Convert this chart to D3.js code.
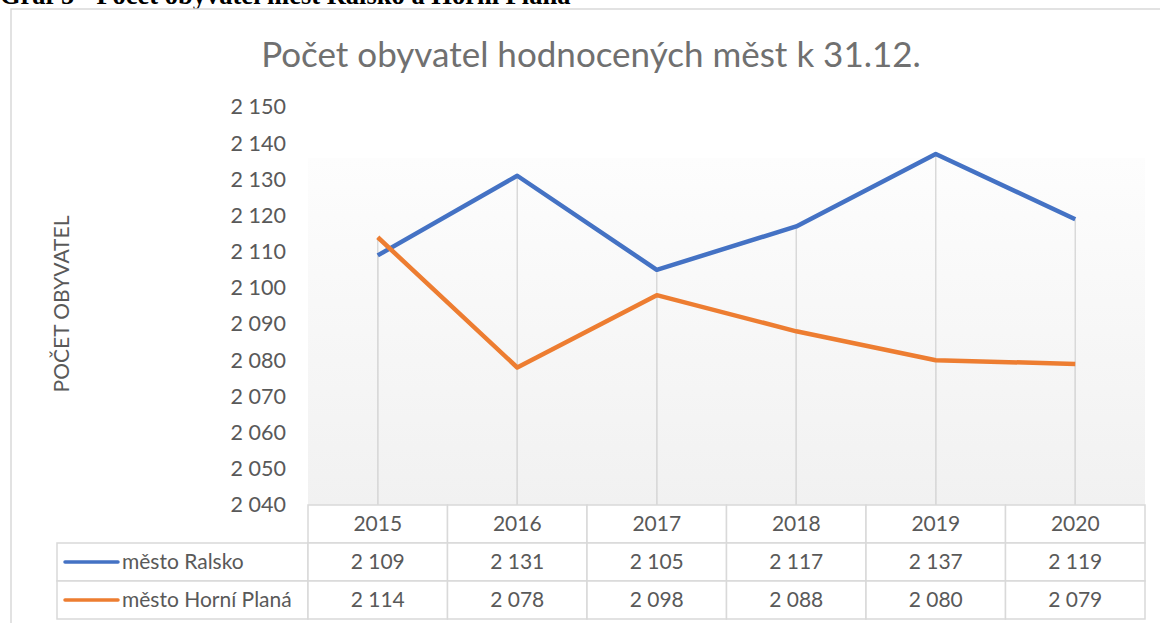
<!DOCTYPE html>
<html>
<head>
<meta charset="utf-8">
<script src="https://cdn.jsdelivr.net/npm/d3@7"></script>
<style>
  body { margin: 0; background: #fff; }
  svg { display: block; }
  text { font-family: Lato, "Open Sans", sans-serif; }
</style>
</head>
<body>
<div id="chart"></div>
<script>
  // data
  const years = ['2015', '2016', '2017', '2018', '2019', '2020'];
  const ralsko = [2109, 2131, 2105, 2117, 2137, 2119];
  const horniPlana = [2114, 2078, 2098, 2088, 2080, 2079];
  const seriesNames = ['město Ralsko', 'město Horní Planá'];
  const seriesColors = ['#4472C4', '#ED7D31'];
  const yTicks = [2040, 2050, 2060, 2070, 2080, 2090, 2100, 2110, 2120, 2130, 2140, 2150];

  const width = 1160;
  const height = 623;
  const plot = { left: 308, right: 1145, top: 107, bottom: 505 };
  const rowH = 38;

  const fmt = v => d3.format(',')(v).replace(',', ' ');

  const svg = d3.select('#chart')
    .append('svg')
    .attr('width', width)
    .attr('height', height);

  // caption above the chart (cut off at the top of the picture)
  svg.append('text')
    .attr('x', 0)
    .attr('y', 4)
    .style('font-family', '"Liberation Serif", "Times New Roman", serif')
    .style('font-weight', 'bold')
    .style('font-size', '26.5px')
    .attr('fill', '#000')
    .text('Graf 5 - Počet obyvatel měst Ralsko a Horní Planá');

  // chart frame
  svg.append('rect')
    .attr('x', 11)
    .attr('y', 9)
    .attr('width', 1160)
    .attr('height', 700)
    .attr('fill', '#fff')
    .attr('stroke', '#d9d9d9')
    .attr('stroke-width', 1.5);

  // plot area gradient
  const defs = svg.append('defs');
  const grad = defs.append('linearGradient')
    .attr('id', 'plotGrad')
    .attr('x1', 0).attr('y1', 0).attr('x2', 0).attr('y2', 1);
  grad.append('stop').attr('offset', '0%').attr('stop-color', '#fdfdfd');
  grad.append('stop').attr('offset', '100%').attr('stop-color', '#f1f1f1');

  const x = d3.scaleBand()
    .domain(years)
    .range([plot.left, plot.right]);
  const cx = d => x(d) + x.bandwidth() / 2;

  const y = d3.scaleLinear()
    .domain([2040, 2150])
    .range([plot.bottom, plot.top]);

  svg.append('rect')
    .attr('x', plot.left)
    .attr('y', 158)
    .attr('width', plot.right - plot.left)
    .attr('height', plot.bottom - 158)
    .attr('fill', 'url(#plotGrad)');

  // title
  svg.append('text')
    .attr('x', 591)
    .attr('y', 67)
    .attr('text-anchor', 'middle')
    .style('font-size', '35px')
    .attr('fill', '#707070')
    .text('Počet obyvatel hodnocených měst k 31.12.');

  // y axis title
  svg.append('text')
    .attr('transform', 'translate(69,304) rotate(-90)')
    .attr('text-anchor', 'middle')
    .style('font-size', '21px')
    .attr('fill', '#595959')
    .text('POČET OBYVATEL');

  // y axis
  const yAxis = svg.append('g')
    .attr('transform', `translate(${plot.left - 22},0)`)
    .call(d3.axisLeft(y).tickValues(yTicks).tickSize(0).tickPadding(0).tickFormat(fmt));
  yAxis.select('.domain').remove();
  yAxis.selectAll('text')
    .style('font-family', 'Lato, sans-serif')
    .style('font-size', '21.5px')
    .attr('fill', '#595959');

  // drop lines
  const series = [ralsko, horniPlana];
  series.forEach(vals => {
    svg.append('g')
      .selectAll('line')
      .data(years)
      .join('line')
      .attr('x1', d => cx(d))
      .attr('x2', d => cx(d))
      .attr('y1', (d, i) => y(vals[i]))
      .attr('y2', plot.bottom)
      .attr('stroke', '#d9d9d9')
      .attr('stroke-width', 1.5);
  });

  // lines
  series.forEach((vals, s) => {
    const line = d3.line()
      .x((d, i) => cx(years[i]))
      .y(d => y(d));
    svg.append('path')
      .datum(vals)
      .attr('d', line)
      .attr('fill', 'none')
      .attr('stroke', seriesColors[s])
      .attr('stroke-width', 4.5)
      .attr('stroke-linejoin', 'round');
  });

  // data table
  const table = svg.append('g');
  const border = '#d9d9d9';
  const legendLeft = 57;
  const headerTop = plot.bottom;

  // header cells
  table.selectAll('rect.head')
    .data(years)
    .join('rect')
    .attr('class', 'head')
    .attr('x', d => x(d))
    .attr('y', headerTop)
    .attr('width', x.bandwidth())
    .attr('height', rowH)
    .attr('fill', '#fff')
    .attr('stroke', border)
    .attr('stroke-width', 1.5);
  table.selectAll('text.head')
    .data(years)
    .join('text')
    .attr('class', 'head')
    .attr('x', d => cx(d))
    .attr('y', headerTop + rowH / 2 + 7)
    .attr('text-anchor', 'middle')
    .style('font-size', '21px')
    .attr('fill', '#595959')
    .text(d => d);

  series.forEach((vals, s) => {
    const top = headerTop + rowH * (s + 1);
    const row = table.append('g');
    row.append('rect')
      .attr('x', legendLeft)
      .attr('y', top)
      .attr('width', plot.left - legendLeft)
      .attr('height', rowH)
      .attr('fill', '#fff')
      .attr('stroke', border)
      .attr('stroke-width', 1.5);
    row.selectAll('rect.cell')
      .data(years)
      .join('rect')
      .attr('class', 'cell')
      .attr('x', d => x(d))
      .attr('y', top)
      .attr('width', x.bandwidth())
      .attr('height', rowH)
      .attr('fill', '#fff')
      .attr('stroke', border)
      .attr('stroke-width', 1.5);
    row.append('line')
      .attr('x1', 65)
      .attr('x2', 118)
      .attr('y1', top + rowH / 2)
      .attr('y2', top + rowH / 2)
      .attr('stroke', seriesColors[s])
      .attr('stroke-width', 3.5)
      .attr('stroke-linecap', 'round');
    row.append('text')
      .attr('x', 122)
      .attr('y', top + rowH / 2 + 7)
      .style('font-size', '21px')
      .attr('fill', '#595959')
      .text(seriesNames[s]);
    row.selectAll('text.val')
      .data(years)
      .join('text')
      .attr('class', 'val')
      .attr('x', d => cx(d))
      .attr('y', top + rowH / 2 + 7)
      .attr('text-anchor', 'middle')
      .style('font-size', '21px')
      .attr('fill', '#595959')
      .text((d, i) => fmt(vals[i]));
  });
</script>
</body>
</html>
